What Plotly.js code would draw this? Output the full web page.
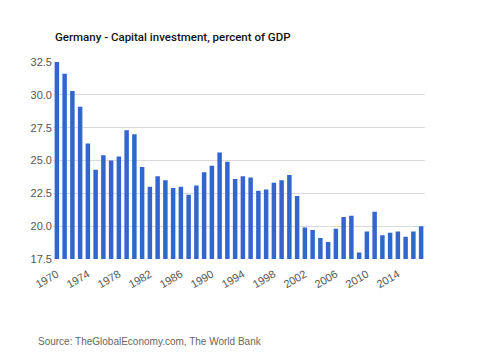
<!DOCTYPE html>
<html>
<head>
<meta charset="utf-8">
<script src="https://cdn.plot.ly/plotly-3.0.1.min.js"></script>
<style>html,body{margin:0;padding:0;background:#fff;}#chart{width:480px;height:360px;}</style>
</head>
<body>
<div id="chart"></div>
<script>
const years = [1970,1971,1972,1973,1974,1975,1976,1977,1978,1979,1980,1981,1982,1983,1984,1985,1986,1987,1988,1989,1990,1991,1992,1993,1994,1995,1996,1997,1998,1999,2000,2001,2002,2003,2004,2005,2006,2007,2008,2009,2010,2011,2012,2013,2014,2015,2016,2017];
const values = [32.5,31.6,30.3,29.1,26.3,24.3,25.4,25.0,25.3,27.3,27.0,24.5,23.0,23.8,23.5,22.9,23.0,22.4,23.1,24.1,24.6,25.6,24.9,23.6,23.8,23.7,22.7,22.8,23.3,23.5,23.9,22.3,19.9,19.7,19.1,18.8,19.8,20.7,20.8,18.0,19.6,21.1,19.3,19.5,19.6,19.2,19.6,20.0];
const yTicks = [17.5,20.0,22.5,25.0,27.5,30.0,32.5];
const yTickText = ["17.5","20.0","22.5","25.0","27.5","30.0","32.5"];
const xTicks = [1970,1974,1978,1982,1986,1990,1994,1998,2002,2006,2010,2014];
const titleText = "Germany - Capital investment, percent of GDP";
const sourceText = "Source: TheGlobalEconomy.com, The World Bank";

Plotly.newPlot('chart', [{
  type: 'bar', x: years, y: values,
  marker: {color: '#3366cc'},
  hoverinfo: 'x+y'
}], {
  width: 480, height: 360,
  margin: {l: 53, r: 55, t: 62, b: 101},
  paper_bgcolor: '#fff', plot_bgcolor: '#fff',
  bargap: 0.42,
  font: {family: 'Arial, "Liberation Sans", sans-serif', color: '#444'},
  title: {text: titleText, x: 55/480, xanchor: 'left', y: 1 - 37/360, yanchor: 'middle',
          font: {family: 'Roboto, Arial, sans-serif', size: 11.5, color: '#111', weight: 500}},
  xaxis: {range: [1969.5, 2017.5], tickvals: xTicks, ticktext: xTicks.map(String), tickangle: -30,
          showgrid: false, zeroline: false, showline: false, ticks: '', ticklabelstandoff: 6,
          tickfont: {size: 11, color: '#555'}},
  yaxis: {range: [17.5, 32.5], tickvals: yTicks, ticktext: yTickText, showgrid: true, gridcolor: '#d9d9d9',
          zeroline: false, showline: false, ticks: '', tickfont: {size: 11, color: '#555'}},
  annotations: [{text: sourceText, xref: 'paper', yref: 'paper', x: -17/372, xanchor: 'left',
                 y: -(341-259)/197, yanchor: 'middle', showarrow: false, font: {size: 10, color: '#666'}}],
  showlegend: false
}, {displayModeBar: false, staticPlot: true});
</script>
</body>
</html>
